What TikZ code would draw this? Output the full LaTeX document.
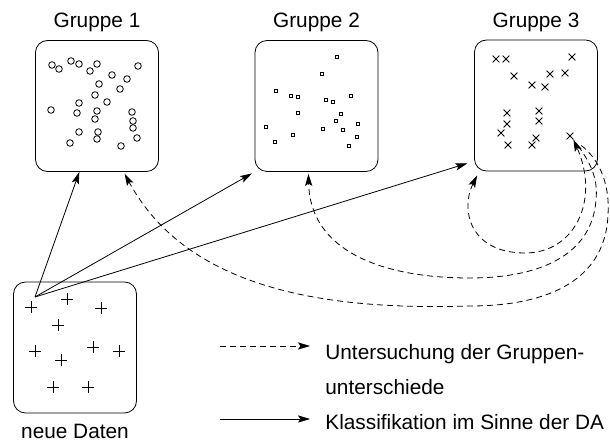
\documentclass[tikz,border=0pt]{standalone}
\usepackage{fontspec}
\setmainfont{Liberation Sans}
\usetikzlibrary{arrows.meta,positioning,shapes.misc,calc}

\begin{document}
\begin{tikzpicture}
[x=0.5pt,y=-0.5pt
,font=\fontsize{10.4pt}{12.5pt}\selectfont
,>={Stealth[length=6pt,width=3.6pt,inset=1.2pt]}
,gbox/.style={draw,rectangle,rounded corners=6pt,minimum width=61.5pt,minimum height=65.5pt}
,ci/.style={circle,draw,inner sep=0pt,minimum size=3.3pt}
,sq/.style={rectangle,draw,inner sep=0pt,minimum size=1.8pt}
,xx/.style={cross out,draw,inner sep=0pt,minimum size=3pt}
,pl/.style={xx,rotate=45,minimum size=3.6pt}
,ka/.style={draw=black,->}
,ua/.style={ka,dash pattern=on 3pt off 2pt}
,leg/.style={anchor=base west,inner sep=0pt}
]
\useasboundingbox (0,0) rectangle (610,442);
% Gruppen
\node[gbox] (g1) at (97,106) {};
\node[gbox] (g2) at (316.5,106) {};
\node[gbox] (g3) at (536,105.5) {};
\node[gbox] (neu) at (75,347.5) {};
\node[above=0.5pt of g1] (t1) {Gruppe 1};
\node[above=0.5pt of g2] (t2) {Gruppe 2};
\node[above=0.5pt of g3] (t3) {Gruppe 3};
\node[below=1.8pt of neu] (tn) {neue Daten};
% Punkte
\foreach \p [count=\i] in {(52,65),(59,69),(71,61),(79,64),(90,71),(97,64),(138,66),
  (112,75),(127,79),(99,84),(120,89),(95,95),(107,102),(79,103),(51,110),(97,111),
  (77,113),(132,112),(95,119),(133,121),(133,128),(79,132),(98,132),(97,139),
  (137,138),(70,143),(121,146)}
  \node[ci] (c\i) at \p {};
\foreach \p [count=\i] in {(337,57),(322,74),(276,91),(291,96),(298,97),(326,100),
  (333,102),(351,96),(298,113),(341,114),(336,121),(266,127),(323,129),(343,130),
  (358,124),(293,135),(357,137),(275,142),(349,146)}
  \node[sq] (s\i) at \p {};
\foreach \p [count=\i] in {(496,59),(506,59),(572,57),(514,76),(550,74),(565,73),
  (532,85),(545,87),(507,113),(539,111),(507,124),(539,121),(501,133),(536,138),
  (508,145),(532,145)}
  \node[xx] (x\i) at \p {};
\node[xx] (xk) at (570,136) {};
\foreach \p [count=\i] in {(31,307),(67,299),(101,308),(58,325),(35,351),(93,347),
  (119,351),(61,360),(53,387),(88,387)}
  \node[pl] (n\i) at \p {};
% Klassifikation
\coordinate (src) at (35,297);
\draw[ka] (src) -- (g1.-105);
\draw[ka,shorten >=1.5pt] (src) -- (g2.south west);
\draw[ka,shorten >=3.5pt] (src) -- (g3.-138);
% Gruppenunterschiede
\draw[ua,<->] ($(g3.south west)+(3,4)$) .. controls (460,210) and (470,253) .. (525,253)
  .. controls (575,253) and (600,200) .. (xk.south east);
\draw[ua,shorten <=4pt,shorten >=1pt] (xk.south east) .. controls (592,165) and (598,180) .. (596,200)
  .. controls (592,255) and (540,278) .. (470,278)
  .. controls (380,278) and (310,250) .. (g2.-97);
\draw[ua,shorten <=5pt,shorten >=1pt] (xk.south east) .. controls (600,160) and (610,185) .. (608,215)
  .. controls (605,285) and (540,306) .. (470,306)
  .. controls (340,310) and (190,295) .. (g1.-68);
% Legende
\coordinate (ua1) at (220,346);
\coordinate (ua2) at (310,346);
\coordinate (ka1) at (220,419);
\coordinate (ka2) at (310,419);
\draw[ua] (ua1) -- (ua2);
\draw[ka] (ka1) -- (ka2);
\node[leg] (l1) at (325,360) {Untersuchung der Gruppen-};
\node[leg] (l2) at (325,395) {unterschiede};
\node[leg] (l3) at (325,430) {Klassifikation im Sinne der DA};
\end{tikzpicture}
\end{document}
